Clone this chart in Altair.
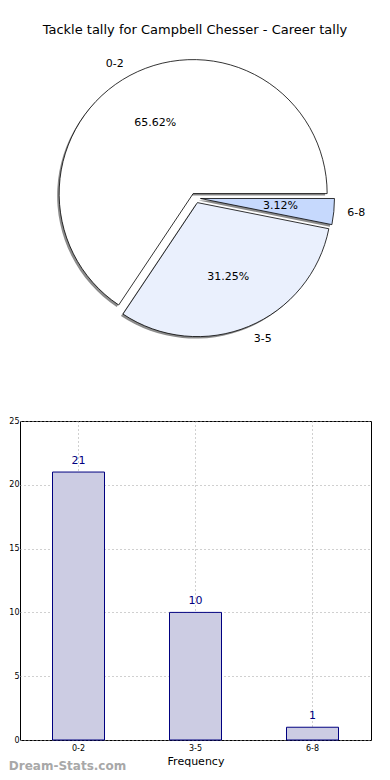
import math
import altair as alt
import pandas as pd

# ---- data ----
categories = ["0-2", "3-5", "6-8"]
counts = [21, 10, 1]
slice_colors = ["#ffffff", "#eaf0fd", "#c6d9fd"]
title_text = "Tackle tally for Campbell Chesser - Career tally"
x_title = "Frequency"
watermark = "Dream-Stats.com"

FONT = "DejaVu Sans"
total = sum(counts)

# Pie: matplotlib starts at 3 o'clock, counter-clockwise.
# In Vega (clockwise from 12 o'clock) this is the reversed order from 3 o'clock.
rows = []
acc = 0
for cat, val, col in reversed(list(zip(categories, counts, slice_colors))):
    rows.append(dict(cat=cat, val=val, color=col, start=acc, end=acc + val,
                     mid=acc + val / 2, pct=f"{100 * val / total:.2f}%"))
    acc += val
pie_df = pd.DataFrame(rows)

theta_scale = alt.Scale(domain=[0, total], range=[math.pi / 2, math.pi / 2 + 2 * math.pi])
R = 134
EXPLODE = 5

base = alt.Chart(pie_df)
shadow_layers, slice_layers, text_layers = [], [], []
for r in rows:
    ang = (r["mid"] / total) * 2 * math.pi + math.pi / 2
    dx = EXPLODE * math.sin(ang)
    dy = -EXPLODE * math.cos(ang)
    sel = base.transform_filter(alt.datum.cat == r["cat"])
    shadow_layers.append(
        sel.mark_arc(radius=R, fill="#808080", opacity=0.9, stroke=None,
                     xOffset=dx - 2, yOffset=dy + 2)
        .encode(theta=alt.Theta("start:Q", scale=theta_scale, stack=None),
                theta2="end:Q")
    )
    slice_layers.append(
        sel.mark_arc(radius=R, stroke="black", strokeWidth=0.8,
                     xOffset=dx, yOffset=dy)
        .encode(theta=alt.Theta("start:Q", scale=theta_scale, stack=None),
                theta2="end:Q",
                fill=alt.Color("color:N", scale=None))
    )
    text_layers.append(
        sel.mark_text(radius=R * 0.6, font=FONT, fontSize=11, color="black",
                      xOffset=dx, yOffset=dy)
        .encode(theta=alt.Theta("mid:Q", scale=theta_scale, stack=None),
                text="pct:N")
    )
    left_side = math.sin(ang) < 0
    text_layers.append(
        sel.mark_text(radius=R * 1.1, font=FONT, fontSize=11, color="black",
                      align="right" if left_side else "left",
                      xOffset=dx, yOffset=dy)
        .encode(theta=alt.Theta("mid:Q", scale=theta_scale, stack=None),
                text="cat:N")
    )

pie = alt.layer(*shadow_layers, *slice_layers, *text_layers).properties(
    width=351, height=302
)

# ---- bar chart ----
bar_df = pd.DataFrame({"cat": categories, "count": counts})
bbase = alt.Chart(bar_df).encode(
    x=alt.X("cat:N", sort=categories, title=x_title,
            scale=alt.Scale(paddingInner=0, paddingOuter=0),
            axis=alt.Axis(labelAngle=0, grid=True, gridDash=[1, 3], gridColor="#a0a0a0",
                          ticks=False, domain=False, labelFontSize=8, labelPadding=4,
                          titleFontSize=11, titleFont=FONT, labelFont=FONT,
                          titlePadding=3, titleFontWeight="normal", labelColor="black",
                          titleColor="black")),
    y=alt.Y("count:Q", title=None,
            scale=alt.Scale(domain=[0, 25], nice=False),
            axis=alt.Axis(values=[0, 5, 10, 15, 20, 25], grid=True, gridDash=[1, 3],
                          gridColor="#a0a0a0", ticks=False, domain=False,
                          labelFontSize=8, labelPadding=1, labelFont=FONT,
                          labelColor="black")),
)
bars = bbase.mark_bar(size=52, fill="#ccccE3", stroke="#000080", strokeWidth=1)
labels = bbase.mark_text(dy=-6, baseline="bottom", color="#000080", fontSize=11, font=FONT).encode(
    text="count:Q"
)
bar_chart = alt.layer(bars, labels).properties(
    width=351, height=319,
    view=alt.ViewBackground(stroke="black", strokeWidth=1),
    title=alt.TitleParams(watermark, orient="bottom", anchor="start", frame="bounds",
                          fontSize=12, color="#a8a8a8", fontWeight="bold",
                          font=FONT, offset=-5),
)

chart = alt.vconcat(pie, bar_chart, spacing=67).properties(
    title=alt.TitleParams(title_text, fontSize=13, font=FONT, fontWeight="normal",
                          color="black", anchor="middle", dx=5, offset=10),
    padding={"left": 0, "top": 16, "right": 5, "bottom": 0},
).configure_view(strokeWidth=0)

chart.save("out.html", embed_options={"renderer": "svg", "actions": False})
